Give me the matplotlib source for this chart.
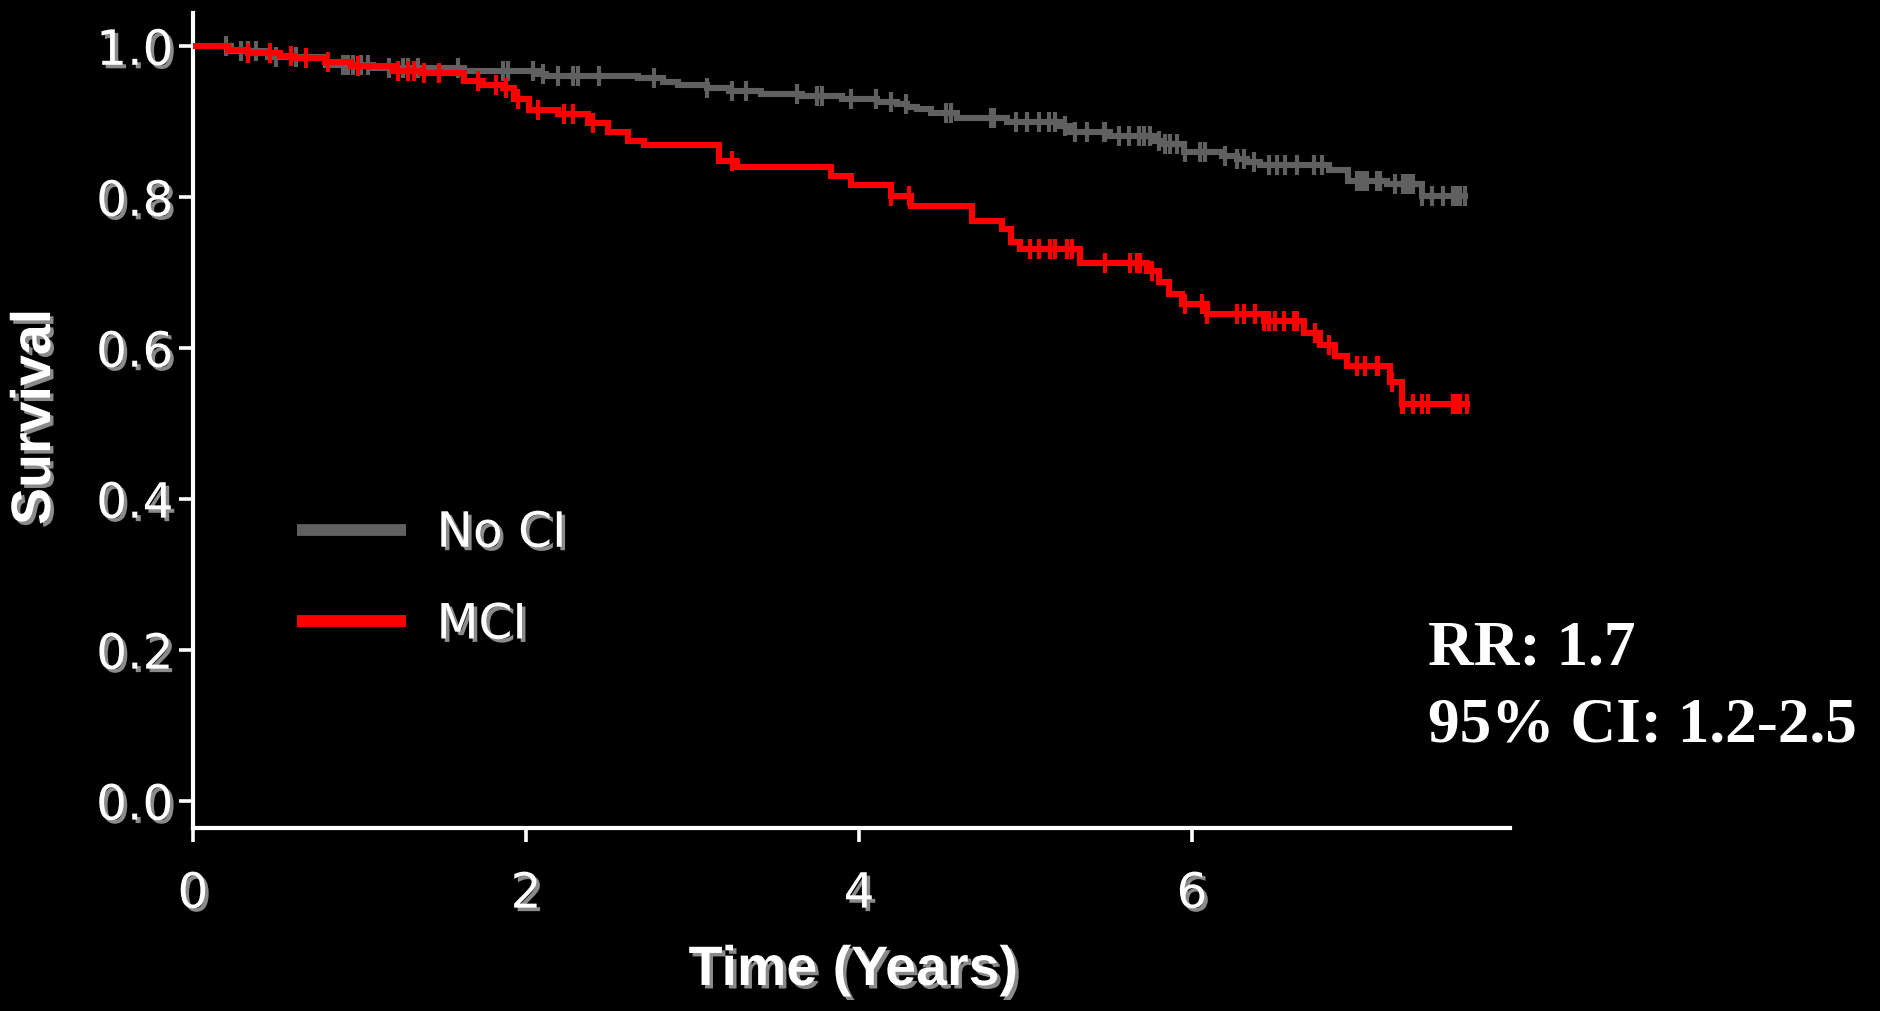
import numpy as np
import matplotlib
matplotlib.use('Agg')
import matplotlib.pyplot as plt
from matplotlib import patheffects as pe
from matplotlib.lines import Line2D

# ---------------- data ----------------
group_names = ['No CI', 'MCI']
group_colors = ['#606060', '#ff0000']

noci_times = [0, 0.23, 0.45, 0.80, 1.08, 1.63, 2.07, 2.12, 2.67, 2.82, 2.91, 3.09, 3.22, 3.41,
              3.66, 3.90, 4.11, 4.23, 4.29, 4.35, 4.43, 4.59, 4.89, 5.21, 5.27, 5.51, 5.77,
              5.81, 5.95, 6.18, 6.27, 6.33, 6.41, 6.82, 6.94, 7.17, 7.38]
noci_surv = [1.0, 0.993, 0.985, 0.974, 0.971, 0.967, 0.963, 0.960, 0.957, 0.952, 0.948, 0.944,
             0.940, 0.936, 0.933, 0.929, 0.925, 0.923, 0.919, 0.916, 0.911, 0.904, 0.899, 0.894,
             0.886, 0.881, 0.874, 0.870, 0.859, 0.854, 0.850, 0.846, 0.842, 0.835, 0.821, 0.817,
             0.801]
noci_censor = [0.20, 0.29, 0.33, 0.38, 0.50, 0.62, 0.90, 0.91, 0.93, 0.96, 1.01, 1.05, 1.18,
               1.26, 1.29, 1.35, 1.59, 1.86, 1.89, 2.04, 2.10, 2.19, 2.28, 2.31, 2.44, 2.77,
               3.09, 3.24, 3.32, 3.63, 3.75, 3.78, 3.95, 4.10, 4.19, 4.28, 4.52, 4.55, 4.79,
               4.81, 4.94, 5.01, 5.08, 5.14, 5.18, 5.24, 5.30, 5.37, 5.47, 5.48, 5.56, 5.62,
               5.68, 5.71, 5.75, 5.80, 5.84, 5.87, 5.91, 5.96, 6.05, 6.08, 6.20, 6.27, 6.31,
               6.37, 6.46, 6.51, 6.56, 6.63, 6.73, 6.78, 6.99, 7.01, 7.03, 7.05, 7.11, 7.13,
               7.22, 7.27, 7.29, 7.31, 7.33, 7.38, 7.44, 7.51, 7.57, 7.59, 7.61, 7.64]
noci_end = 7.64

mci_times = [0, 0.21, 0.33, 0.52, 0.61, 0.79, 0.95, 1.20, 1.37, 1.63, 1.74, 1.86, 1.93, 2.02,
             2.19, 2.37, 2.49, 2.61, 2.71, 3.16, 3.27, 3.83, 3.95, 4.19, 4.31, 4.68, 4.86, 4.91,
             4.97, 5.33, 5.73, 5.80, 5.86, 5.94, 6.09, 6.43, 6.67, 6.77, 6.86, 6.93, 7.19, 7.26]
mci_surv = [1.0, 0.995, 0.990, 0.987, 0.984, 0.978, 0.973, 0.967, 0.964, 0.954, 0.948, 0.944,
            0.930, 0.915, 0.910, 0.898, 0.886, 0.874, 0.869, 0.847, 0.839, 0.828, 0.816, 0.801,
            0.788, 0.768, 0.757, 0.740, 0.731, 0.712, 0.702, 0.687, 0.671, 0.658, 0.645, 0.636,
            0.620, 0.604, 0.589, 0.576, 0.554, 0.525]
mci_censor = [0.33, 0.46, 0.59, 0.68, 0.81, 0.99, 1.23, 1.29, 1.33, 1.39, 1.48, 1.71, 1.82,
              1.88, 1.95, 2.07, 2.23, 2.28, 2.40, 3.24, 4.19, 4.30, 5.03, 5.08, 5.15, 5.18,
              5.25, 5.28, 5.48, 5.63, 5.67, 5.69, 5.76, 5.96, 6.06, 6.09, 6.27, 6.31, 6.38,
              6.43, 6.46, 6.50, 6.55, 6.61, 6.63, 6.74, 6.82, 6.99, 7.04, 7.11, 7.12, 7.20,
              7.26, 7.27, 7.33, 7.38, 7.42, 7.57, 7.59, 7.61, 7.65]
mci_end = 7.65

x_ticks = [0, 2, 4, 6]
y_ticks = [0.0, 0.2, 0.4, 0.6, 0.8, 1.0]
y_ticklabels = ['0.0', '0.2', '0.4', '0.6', '0.8', '1.0']
x_label = 'Time (Years)'
y_label = 'Survival'
stat_lines = ['RR: 1.7', '95% CI: 1.2-2.5']

# ---------------- figure ----------------
W, H = 1881, 1012
fig = plt.figure(figsize=(W / 100, H / 100), dpi=100, facecolor='black')
ax = fig.add_axes([193 / W, 1 - 829 / H, 1317 / W, 815 / H])
ax.set_facecolor('black')

shadow = [pe.withSimplePatchShadow(offset=(2.5, -2.5), shadow_rgbFace='#8a8a8a', alpha=1.0)]

series = [
    (noci_times, noci_surv, noci_censor, noci_end),
    (mci_times, mci_surv, mci_censor, mci_end),
]
for (t, s, c, end), name, col in zip(series, group_names, group_colors):
    t = np.asarray(t, float)
    s = np.asarray(s, float)
    xs = np.append(t, end)
    ys = np.append(s, s[-1])
    ax.step(xs, ys, where='post', color=col, lw=4.4, solid_joinstyle='miter', zorder=3)
    c = np.asarray(c, float)
    idx = np.searchsorted(t, c, side='right') - 1
    ax.plot(c, s[idx], ls='none', marker='|', ms=14, mew=3.0, color=col, zorder=3)

ax.set_xlim(0, 7.91)
ax.set_ylim(-0.0363, 1.0435)

for sp in ['top', 'right']:
    ax.spines[sp].set_visible(False)
for sp in ['left', 'bottom']:
    ax.spines[sp].set_color('white')
    ax.spines[sp].set_linewidth(3)

ax.set_yticks(y_ticks)
ax.set_yticklabels(y_ticklabels)
ax.set_xticks(x_ticks)
ax.tick_params(axis='y', colors='white', width=2.6, length=10, pad=4, labelsize=35)
ax.tick_params(axis='x', colors='white', width=2.6, length=10, pad=20, labelsize=35)

for lab in ax.get_yticklabels():
    lab.set_family('DejaVu Sans')
    lab.set_path_effects(shadow)
for lab in ax.get_xticklabels():
    lab.set_family('DejaVu Sans Condensed')
    lab.set_path_effects(shadow)

fig.text(853 / W, 1 - 972 / H, x_label, ha='center', va='center', color='white',
         fontsize=40, fontweight='bold', family='Liberation Sans', path_effects=shadow)
fig.text(36 / W, 1 - 418 / H, y_label, ha='center', va='center', rotation=90, color='white',
         fontsize=40, fontweight='bold', family='Liberation Sans', path_effects=shadow)

handles = [Line2D([], [], color=c, lw=8.5, solid_capstyle='butt') for c in group_colors]
leg = ax.legend(handles, group_names, loc='center left', bbox_to_anchor=(0.079, 0.306),
                frameon=False, fontsize=35, handlelength=2.25, handletextpad=0.62,
                labelspacing=0.9, borderpad=0, borderaxespad=0)
for txt in leg.get_texts():
    txt.set_color('white')
    txt.set_family('DejaVu Sans')
    txt.set_path_effects(shadow)

fig.text(1428 / W, 1 - 665 / H, stat_lines[0], ha='left', va='baseline', color='white',
         fontsize=45.5, fontweight='bold', family='Liberation Serif')
fig.text(1428 / W, 1 - 742 / H, stat_lines[1], ha='left', va='baseline', color='white',
         fontsize=45.5, fontweight='bold', family='Liberation Serif')

fig.savefig('out.png', dpi=100, facecolor='black')
